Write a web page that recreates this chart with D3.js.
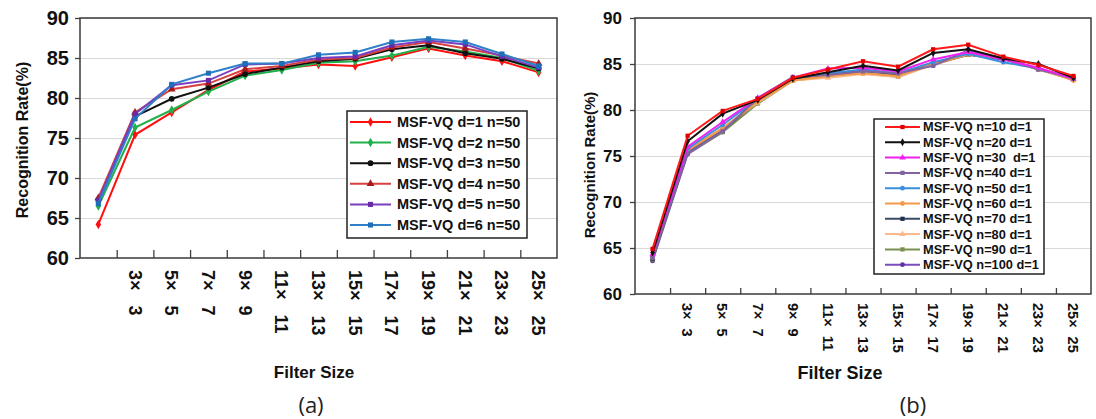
<!DOCTYPE html>
<html>
<head>
<meta charset="utf-8">
<script src="https://cdn.jsdelivr.net/npm/d3@7"></script>
<style>
  body { margin: 0; background: #fff; }
  svg { display: block; font-family: "Liberation Sans", Arial, sans-serif; }
</style>
</head>
<body>
<svg id="chart" width="1096" height="419"></svg>
<script>
// filter sizes (first one has no label on the axis)
const categories = ["1x1", "3x3", "5x5", "7x7", "9x9", "11x11", "13x13", "15x15", "17x17", "19x19", "21x21", "23x23", "25x25"];
const xLabels = ["", "3× 3", "5× 5", "7× 7", "9× 9", "11× 11", "13× 13", "15× 15", "17× 17", "19× 19", "21× 21", "23× 23", "25× 25"];
const yTicks = [60, 65, 70, 75, 80, 85, 90];

// panel (a): n = 50, d varies
const namesA = ["MSF-VQ d=1 n=50", "MSF-VQ d=2 n=50", "MSF-VQ d=3 n=50", "MSF-VQ d=4 n=50", "MSF-VQ d=5 n=50", "MSF-VQ d=6 n=50"];
const depth1 = [64.2, 75.4, 78.2, 81.0, 83.3, 83.7, 84.2, 84.0, 85.1, 86.2, 85.3, 84.6, 83.2];
const depth2 = [66.5, 76.3, 78.5, 80.8, 82.8, 83.5, 84.4, 84.6, 85.3, 86.4, 85.8, 85.0, 83.4];
const depth3 = [67.3, 77.7, 79.9, 81.3, 83.0, 83.8, 84.6, 84.9, 86.1, 86.6, 85.6, 84.9, 83.7];
const depth4 = [67.5, 78.2, 81.1, 81.8, 83.6, 84.0, 84.8, 85.0, 86.3, 87.0, 86.2, 85.3, 84.3];
const depth5 = [67.2, 78.0, 81.6, 82.2, 84.2, 84.3, 85.0, 85.2, 86.6, 87.2, 86.7, 85.2, 83.8];
const depth6 = [66.8, 77.4, 81.7, 83.1, 84.3, 84.3, 85.4, 85.7, 87.0, 87.4, 87.0, 85.5, 84.0];

// panel (b): d = 1, n varies
const namesB = ["MSF-VQ n=10 d=1", "MSF-VQ n=20 d=1", "MSF-VQ n=30  d=1", "MSF-VQ n=40 d=1", "MSF-VQ n=50 d=1",
                "MSF-VQ n=60 d=1", "MSF-VQ n=70 d=1", "MSF-VQ n=80 d=1", "MSF-VQ n=90 d=1", "MSF-VQ n=100 d=1"];
const n10 = [64.9, 77.2, 79.9, 81.2, 83.5, 84.4, 85.3, 84.7, 86.6, 87.1, 85.8, 84.9, 83.7];
const n20 = [64.5, 76.6, 79.6, 81.1, 83.4, 84.1, 84.8, 84.3, 86.2, 86.6, 85.6, 85.0, 83.5];
const n30 = [64.3, 76.0, 78.7, 81.3, 83.5, 84.5, 84.6, 84.2, 85.5, 86.3, 85.5, 84.6, 83.4];
const n40 = [63.9, 75.3, 77.7, 81.3, 83.6, 83.8, 84.2, 84.0, 84.8, 86.5, 85.6, 84.4, 83.5];
const n50 = [64.1, 75.8, 78.4, 81.2, 83.5, 84.0, 84.4, 84.0, 85.2, 86.1, 85.2, 84.5, 83.4];
const n60 = [64.0, 75.6, 78.0, 80.9, 83.2, 83.7, 84.0, 83.7, 85.0, 86.0, 85.6, 84.5, 83.2];
const n70 = [63.8, 75.4, 77.8, 81.0, 83.3, 83.8, 84.3, 83.8, 85.0, 86.0, 85.5, 84.5, 83.4];
const n80 = [63.9, 75.7, 78.1, 80.8, 83.2, 83.5, 83.9, 83.6, 84.9, 86.0, 85.6, 84.4, 83.3];
const n90 = [63.7, 75.3, 77.6, 80.7, 83.2, 83.6, 84.0, 83.6, 85.0, 86.0, 85.7, 84.4, 83.3];
const n100 = [63.6, 75.2, 77.6, 81.3, 83.5, 83.8, 84.2, 83.9, 84.9, 86.1, 85.7, 84.4, 83.4];

const svg = d3.select("#chart");

const drawPanel = (p) => {
  const g = svg.append("g");
  const x = d3.scaleBand().domain(d3.range(categories.length)).range([p.left, p.right]);
  const xEdge = d3.scaleLinear().domain([0, categories.length]).range([p.left, p.right]);
  const y = d3.scaleLinear().domain([60, 90]).range([p.bottom, p.top]);

  // grid lines
  g.append("g")
    .attr("transform", `translate(${p.left},0)`)
    .call(d3.axisLeft(y).tickValues(yTicks.slice(1)).tickSize(-(p.right - p.left)).tickFormat(""))
    .call(s => s.select(".domain").remove())
    .call(s => s.selectAll("line").attr("stroke", "#d9d9d9").attr("stroke-width", 1));

  // y axis
  g.append("g")
    .attr("transform", `translate(${p.left},0)`)
    .call(d3.axisLeft(y).tickValues(yTicks).tickSize(5).tickPadding(p.yPad))
    .call(s => s.select(".domain").remove())
    .call(s => s.selectAll("line").attr("stroke", "#404040").attr("stroke-width", 1.3))
    .call(s => s.selectAll("text").attr("fill", "#111").style("font-size", p.yFont + "px").style("font-weight", "bold"));

  // x ticks between categories
  g.append("g")
    .attr("transform", `translate(0,${p.bottom})`)
    .call(d3.axisBottom(xEdge).tickValues(d3.range(1, categories.length)).tickSize(-p.tickIn).tickFormat(""))
    .call(s => s.select(".domain").remove())
    .call(s => s.selectAll("line").attr("stroke", "#404040").attr("stroke-width", 1.3));

  // x labels, rotated
  g.append("g")
    .attr("transform", `translate(0,${p.bottom})`)
    .call(d3.axisBottom(x).tickSize(0).tickFormat(i => xLabels[i]))
    .call(s => s.select(".domain").remove())
    .call(s => s.selectAll("text")
      .attr("transform", "rotate(90)")
      .attr("x", p.labelOff).attr("y", 0).attr("dy", "0.36em")
      .attr("text-anchor", "start")
      .attr("fill", "#111")
      .style("font-size", p.xFont + "px").style("font-weight", "bold")
      .style("word-spacing", p.wordSp + "px"));

  // frame
  g.append("rect")
    .attr("x", p.left).attr("y", p.top)
    .attr("width", p.right - p.left).attr("height", p.bottom - p.top)
    .attr("fill", "none").attr("stroke", "#3a3a3a").attr("stroke-width", 1.5);

  const line = d3.line().x((d, i) => x(i) + x.bandwidth() / 2).y(d => y(d));

  p.order.forEach(k => {
    const s = p.series[k];
    g.append("path").datum(s.values)
      .attr("d", line).attr("fill", "none")
      .attr("stroke", s.color).attr("stroke-width", p.lineW);
    g.selectAll(null).data(s.values).enter().append("path")
      .attr("transform", (d, i) => `translate(${x(i) + x.bandwidth() / 2},${y(d)})`)
      .attr("d", d3.symbol().type(s.symbol).size(p.markSize))
      .attr("fill", s.mark || s.color);
  });

  // legend
  const lg = g.append("g");
  lg.append("rect")
    .attr("x", p.leg.x).attr("y", p.leg.y).attr("width", p.leg.w).attr("height", p.leg.h)
    .attr("fill", "#fff").attr("stroke", "#222").attr("stroke-width", 1.5);
  p.series.forEach((s, i) => {
    const yy = p.leg.y + p.leg.first + i * p.leg.step;
    lg.append("line")
      .attr("x1", p.leg.lx1).attr("x2", p.leg.lx2).attr("y1", yy).attr("y2", yy)
      .attr("stroke", s.color).attr("stroke-width", p.lineW);
    lg.append("path")
      .attr("transform", `translate(${(p.leg.lx1 + p.leg.lx2) / 2},${yy})`)
      .attr("d", d3.symbol().type(s.symbol).size(p.markSize))
      .attr("fill", s.mark || s.color);
    lg.append("text")
      .attr("x", p.leg.tx).attr("y", yy).attr("dy", "0.35em")
      .attr("fill", "#111")
      .style("font-size", p.leg.font + "px").style("font-weight", "bold")
      .style("white-space", "pre")
      .text(s.name);
  });

  // titles
  g.append("text")
    .attr("transform", `translate(${p.yTitle.x},${p.yTitle.y}) rotate(-90)`)
    .attr("text-anchor", "middle").attr("dy", "0.35em")
    .attr("fill", "#111").style("font-size", p.yTitle.font + "px").style("font-weight", "bold")
    .text("Recognition Rate(%)");
  g.append("text")
    .attr("x", p.xTitle.x).attr("y", p.xTitle.y).attr("dy", "0.35em")
    .attr("text-anchor", "middle")
    .attr("fill", "#111").style("font-size", p.xTitle.font + "px").style("font-weight", "bold")
    .text("Filter Size");
  g.append("text")
    .attr("x", p.cap.x).attr("y", p.cap.y).attr("dy", "0.35em")
    .attr("text-anchor", "middle")
    .attr("fill", "#222").style("font-size", "22px")
    .style("font-family", "'Open Sans', 'Liberation Sans', sans-serif")
    .text(p.cap.text);
};

const seriesA = [
  { name: namesA[0], values: depth1, color: "#ff1010", symbol: d3.symbolDiamond },
  { name: namesA[1], values: depth2, color: "#21b04b", symbol: d3.symbolDiamond },
  { name: namesA[2], values: depth3, color: "#111111", symbol: d3.symbolCircle },
  { name: namesA[3], values: depth4, color: "#d84040", symbol: d3.symbolTriangle, mark: "#a51a1a" },
  { name: namesA[4], values: depth5, color: "#7a3fc0", symbol: d3.symbolSquare, mark: "#6a2aa8" },
  { name: namesA[5], values: depth6, color: "#2f80c8", symbol: d3.symbolSquare, mark: "#1f6fb8" }
];

const seriesB = [
  { name: namesB[0], values: n10, color: "#ff1a1a", symbol: d3.symbolSquare, mark: "#e00000" },
  { name: namesB[1], values: n20, color: "#111111", symbol: d3.symbolDiamond },
  { name: namesB[2], values: n30, color: "#f020f0", symbol: d3.symbolTriangle },
  { name: namesB[3], values: n40, color: "#8064a2", symbol: d3.symbolSquare },
  { name: namesB[4], values: n50, color: "#3b8ede", symbol: d3.symbolCircle },
  { name: namesB[5], values: n60, color: "#f39a4a", symbol: d3.symbolCircle },
  { name: namesB[6], values: n70, color: "#3b4a66", symbol: d3.symbolSquare, mark: "#1f2f4f" },
  { name: namesB[7], values: n80, color: "#f9b98a", symbol: d3.symbolTriangle },
  { name: namesB[8], values: n90, color: "#7a8f50", symbol: d3.symbolSquare },
  { name: namesB[9], values: n100, color: "#7a4cc0", symbol: d3.symbolCircle, mark: "#6030a0" }
];

drawPanel({
  left: 80, right: 557, top: 18, bottom: 258,
  yFont: 20, yPad: 6, xFont: 18, wordSp: 10, labelOff: 12, tickIn: 8,
  lineW: 2, markSize: 26,
  series: seriesA, order: [0, 1, 2, 3, 4, 5],
  leg: { x: 347, y: 111, w: 180, h: 127, first: 11, step: 20.6, lx1: 350, lx2: 391, tx: 397, font: 14.5 },
  yTitle: { x: 22, y: 140, font: 16 },
  xTitle: { x: 314, y: 372, font: 17 },
  cap: { x: 311, y: 405, text: "(a)" }
});

drawPanel({
  left: 635, right: 1091, top: 18, bottom: 294,
  yFont: 17, yPad: 8, xFont: 14.5, wordSp: 5, labelOff: 9, tickIn: 6,
  lineW: 2, markSize: 18,
  series: seriesB, order: [9, 8, 7, 6, 5, 4, 3, 2, 1, 0],
  leg: { x: 874, y: 119, w: 170, h: 155, first: 8, step: 15.3, lx1: 885, lx2: 920, tx: 923, font: 12.8 },
  yTitle: { x: 590, y: 165, font: 15 },
  xTitle: { x: 840, y: 373, font: 18 },
  cap: { x: 913, y: 405, text: "(b)" }
});
</script>
</body>
</html>
